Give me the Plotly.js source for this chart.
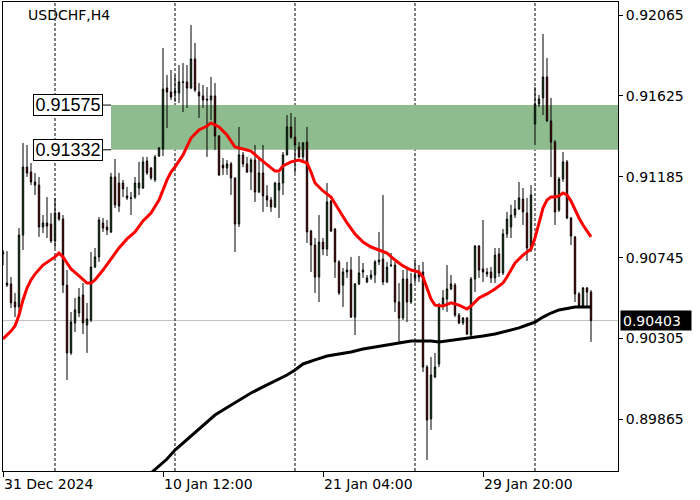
<!DOCTYPE html>
<html><head><meta charset="utf-8">
<script src="https://cdn.plot.ly/plotly-3.0.1.min.js"></script>
<style>html,body{margin:0;padding:0;background:#fff}#chart{width:700px;height:500px}</style>
</head><body><div id="chart"></div>
<script>
const symbol = "USDCHF,H4";
const opens = [
0.90776,0.90607,0.90602,0.90504,0.90477,0.90868,0.91238,0.91211,0.91157,0.91140,
0.90912,0.90934,0.90928,0.90836,0.90988,0.90955,0.90596,0.90227,0.90390,0.90444,
0.90542,0.90379,0.90406,0.90694,0.90749,0.90934,0.90912,0.90885,0.91184,0.91151,
0.91151,0.91081,0.91070,0.91075,0.91124,0.91124,0.91271,0.91233,0.91168,0.91298,
0.91336,0.91668,0.91646,0.91641,0.91641,0.91701,0.91701,0.91668,0.91826,0.91646,
0.91625,0.91608,0.91603,0.91625,0.91407,0.91249,0.91233,0.91255,0.91179,0.90928,
0.91304,0.91255,0.91211,0.91276,0.91102,0.91206,0.91081,0.91059,0.91021,0.91113,
0.91151,0.91304,0.91456,0.91401,0.91347,0.91293,0.91374,0.90890,0.90814,0.90640,
0.90830,0.90792,0.91053,0.90901,0.90722,0.90596,0.90667,0.90678,0.90422,0.90602,
0.90667,0.90613,0.90635,0.90651,0.90722,0.90738,0.90613,0.90705,0.90705,0.90504,
0.90417,0.90629,0.90504,0.90635,0.90662,0.90667,0.90150,0.89868,0.90096,0.90167,
0.90493,0.90520,0.90575,0.90596,0.90433,0.90390,0.90417,0.90324,0.90629,0.90808,
0.90684,0.90656,0.90667,0.90635,0.90765,0.90662,0.90874,0.90912,0.90977,0.91010,
0.91064,0.90988,0.90798,0.91472,0.91581,0.91614,0.91728,0.91489,0.91374,0.91004,
0.91173,0.91266,0.90961,0.90858,0.90548,0.90482,0.90580,0.90558];
const highs = [
0.90787,0.90781,0.90640,0.90553,0.90906,0.91369,0.91358,0.91260,0.91206,0.91184,
0.90977,0.91075,0.90988,0.91070,0.90994,0.90977,0.90678,0.90450,0.90526,0.90580,
0.90607,0.90499,0.90776,0.90798,0.90966,0.90961,0.90950,0.91206,0.91282,0.91206,
0.91168,0.91130,0.91102,0.91184,0.91266,0.91293,0.91293,0.91238,0.91304,0.91347,
0.91886,0.91739,0.91766,0.91739,0.91793,0.91804,0.91793,0.92011,0.91913,0.91695,
0.91684,0.91673,0.91728,0.91695,0.91412,0.91287,0.91276,0.91266,0.91181,0.91456,
0.91320,0.91293,0.91287,0.91358,0.91287,0.91358,0.91140,0.91075,0.91157,0.91206,
0.91320,0.91521,0.91532,0.91510,0.91374,0.91374,0.91456,0.90896,0.90852,0.90977,
0.90852,0.91151,0.91059,0.90906,0.90732,0.90689,0.90722,0.90749,0.90607,0.90754,
0.90716,0.90651,0.90678,0.90732,0.90885,0.91086,0.90722,0.90771,0.90722,0.90607,
0.90678,0.90694,0.90662,0.90732,0.90705,0.90722,0.90161,0.90205,0.90227,0.90499,
0.90569,0.90705,0.90651,0.90607,0.90444,0.90422,0.90422,0.90640,0.90814,0.90814,
0.90950,0.90689,0.90694,0.90798,0.90798,0.90901,0.90994,0.91032,0.91059,0.91157,
0.91124,0.91070,0.91140,0.91673,0.91630,0.91962,0.91831,0.91614,0.91385,0.91184,
0.91320,0.91276,0.90966,0.90863,0.90558,0.90586,0.90586,0.90569];
const lows = [
0.90705,0.90586,0.90471,0.90422,0.90450,0.90787,0.91184,0.91140,0.91086,0.90858,
0.90879,0.90852,0.90825,0.90798,0.90945,0.90553,0.90080,0.90216,0.90341,0.90422,
0.90330,0.90227,0.90395,0.90689,0.90722,0.90885,0.90868,0.90879,0.91015,0.90994,
0.91075,0.91059,0.90977,0.91064,0.91086,0.91119,0.91195,0.91168,0.91157,0.91293,
0.91298,0.91450,0.91603,0.91592,0.91586,0.91537,0.91559,0.91662,0.91646,0.91505,
0.91559,0.91293,0.91494,0.91331,0.91189,0.91195,0.91195,0.91086,0.90776,0.90912,
0.91238,0.91206,0.91113,0.91048,0.91097,0.90994,0.91021,0.90994,0.91015,0.90961,
0.91086,0.91302,0.91391,0.91206,0.91287,0.91276,0.90825,0.90667,0.90553,0.90504,
0.90759,0.90754,0.90885,0.90635,0.90542,0.90477,0.90635,0.90417,0.90324,0.90596,
0.90635,0.90607,0.90624,0.90607,0.90705,0.90596,0.90607,0.90694,0.90450,0.90281,
0.90406,0.90395,0.90493,0.90607,0.90613,0.90123,0.89645,0.89808,0.90091,0.90150,
0.90461,0.90450,0.90569,0.90422,0.90384,0.90379,0.90324,0.90313,0.90558,0.90635,
0.90613,0.90640,0.90607,0.90607,0.90640,0.90651,0.90852,0.90852,0.90961,0.91004,
0.90923,0.90727,0.90776,0.91358,0.91565,0.91521,0.91484,0.91184,0.90923,0.90994,
0.91157,0.90955,0.90814,0.90504,0.90471,0.90471,0.90477,0.90287];
const closes = [
0.90765,0.90596,0.90499,0.90477,0.90868,0.91238,0.91206,0.91157,0.91140,0.90912,
0.90934,0.90917,0.90836,0.90988,0.90955,0.90596,0.90227,0.90395,0.90461,0.90531,
0.90390,0.90412,0.90694,0.90749,0.90950,0.90906,0.90896,0.91184,0.91032,0.91026,
0.91119,0.91070,0.91068,0.91151,0.91151,0.91266,0.91206,0.91179,0.91293,0.91342,
0.91662,0.91646,0.91619,0.91652,0.91701,0.91699,0.91668,0.91826,0.91657,0.91625,
0.91603,0.91603,0.91625,0.91407,0.91195,0.91233,0.91255,0.91179,0.90928,0.91304,
0.91255,0.91211,0.91276,0.91102,0.91206,0.91081,0.91059,0.91021,0.91151,0.91151,
0.91304,0.91456,0.91401,0.91358,0.91293,0.91369,0.90885,0.90814,0.90640,0.90830,
0.90792,0.91048,0.90890,0.90722,0.90553,0.90667,0.90678,0.90422,0.90602,0.90662,
0.90678,0.90635,0.90651,0.90722,0.90732,0.90613,0.90694,0.90703,0.90504,0.90417,
0.90629,0.90504,0.90602,0.90651,0.90640,0.90150,0.89862,0.90107,0.90150,0.90477,
0.90526,0.90575,0.90602,0.90433,0.90390,0.90417,0.90330,0.90629,0.90808,0.90678,
0.90667,0.90667,0.90635,0.90759,0.90662,0.90874,0.90955,0.90977,0.91010,0.91070,
0.90994,0.90798,0.91086,0.91581,0.91608,0.91728,0.91489,0.91374,0.90994,0.91173,
0.91266,0.90961,0.90863,0.90548,0.90482,0.90580,0.90558,0.90403];

const redMaBars = [0,2,3,4,5,6,7,8,10,12,13,14,15,16,17,19,21,22,23,25,27,29,31,33,35,37,39,40,41,42,43,45,46,47,49,51,52,53,54,56,57,58,60,62,64,66,68,69,70,72,74,76,77,78,80,82,83,84,86,88,90,92,94,96,98,100,102,104,105,106,107,108,110,112,114,116,117,119,121,123,125,126,127,128,130,132,133,134,135,136,137,138,139,140,141,142,143,144,145,146,147];
const redMaValues = [
0.90303,0.90346,0.90374,0.90433,0.90515,0.90580,0.90624,0.90656,
0.90705,0.90732,0.90749,0.90770,0.90749,0.90716,0.90684,
0.90646,0.90607,0.90607,0.90624,0.90678,0.90738,0.90798,0.90847,0.90885,0.90945,0.90988,0.91059,
0.91113,0.91168,0.91211,0.91238,0.91304,0.91353,0.91396,0.91440,0.91461,0.91478,0.91467,0.91456,
0.91412,0.91380,0.91347,0.91336,0.91325,0.91287,0.91249,0.91216,0.91216,0.91244,
0.91266,0.91276,0.91260,0.91211,0.91151,0.91108,0.91075,0.91042,0.91004,0.90934,
0.90874,0.90830,0.90803,0.90787,0.90770,0.90732,0.90700,0.90678,0.90667,0.90640,
0.90580,0.90520,0.90487,0.90482,0.90499,0.90487,0.90466,0.90482,0.90526,0.90548,
0.90575,0.90607,0.90640,0.90678,0.90716,0.90759,0.90792,0.90852,0.90939,0.91015,
0.91059,0.91075,0.91075,0.91081,0.91097,0.91086,0.91053,0.91004,0.90961,0.90923,
0.90890,0.90858];
const blackMaBars = [37,39,41,43,45,47,49,51,53,55,57,59,62,65,68,71,73,75,78,81,84,87,90,93,96,99,102,105,107,109,111,114,117,120,123,126,129,131,133,135,137,139,141,143,145,147];
const blackMaValues = [
0.89574,0.89612,0.89650,0.89699,0.89737,0.89775,0.89813,0.89851,0.89889,0.89917,
0.89944,0.89971,0.90009,0.90042,0.90074,0.90107,0.90134,0.90167,0.90189,0.90210,
0.90221,0.90232,0.90248,0.90259,0.90270,0.90281,0.90292,0.90292,0.90292,0.90286,
0.90292,0.90297,0.90308,0.90319,0.90330,0.90346,0.90363,0.90379,0.90395,0.90422,
0.90444,0.90461,0.90471,0.90477,0.90477,0.90477];

const xTickBars = [0, 40, 80, 120];
const xTickLabels = ["31 Dec 2024", "10 Jan 12:00", "21 Jan 04:00", "29 Jan 20:00"];
const yTickValues = [0.89865, 0.90305, 0.90745, 0.91185, 0.91625, 0.92065];
const separatorBars = [13, 43, 73, 103, 133];
const zoneTop = 0.91575;
const zoneBottom = 0.91332;
const lastPrice = 0.90403;

const bars = opens.map((_, i) => i);
const FONT = "DejaVu Sans";

const shapes = [
  {type:'rect', xref:'x', yref:'y', x0:27, x1:153.75, y0:zoneBottom, y1:zoneTop,
   fillcolor:'#8fbc8f', line:{width:0}, layer:'below'},
  {type:'line', xref:'paper', yref:'y', x0:0, x1:1, y0:lastPrice, y1:lastPrice,
   line:{color:'#c0c0c0', width:1}, layer:'below'}
];
separatorBars.forEach(b => shapes.push({type:'line', xref:'x', yref:'paper', x0:b, x1:b, y0:0, y1:1,
  line:{color:'#000', width:1, dash:'3px,2px'}, layer:'below'}));
[zoneTop, zoneBottom].forEach(v => shapes.push({type:'line', xref:'x', yref:'y', x0:24.75, x1:27, y0:v, y1:v,
  line:{color:'#000', width:1}}));

const annotations = [
  {xref:'paper', yref:'paper', x:23/615, y:1, xanchor:'left', yanchor:'top', yshift:-3,
   text:symbol, showarrow:false, font:{family:FONT, size:14, color:'#000'}},
  {xref:'paper', yref:'paper', x:-0.5/615, y:1, xanchor:'left', yanchor:'top', text:'', showarrow:false}
];
[zoneTop, zoneBottom].forEach(v => annotations.push({xref:'paper', yref:'y', x:30/615, y:v,
  xanchor:'left', yanchor:'middle', text:v.toFixed(5), showarrow:false,
  bgcolor:'#fff', bordercolor:'#000', borderwidth:1, borderpad:1, width:66, height:18,
  font:{family:'Liberation Sans', size:18, color:'#000'}}));
annotations.push({xref:'paper', yref:'y', x:1, xshift:2, y:lastPrice, xanchor:'left', yanchor:'middle',
  text:lastPrice.toFixed(5), showarrow:false, bgcolor:'#000', borderpad:2, width:66, height:15,
  align:'left', font:{family:FONT, size:14, color:'#fff'}});

const traces = [
  {type:'candlestick', x:bars, open:opens, high:highs, low:lows, close:closes,
   increasing:{line:{color:'#000', width:1}, fillcolor:'#3cb043'},
   decreasing:{line:{color:'#000', width:1}, fillcolor:'#ff0000'},
   whiskerwidth:0, hoverinfo:'skip'},
  {type:'scatter', mode:'lines', x:redMaBars, y:redMaValues, line:{color:'#ff0000', width:3}, hoverinfo:'skip'},
  {type:'scatter', mode:'lines', x:blackMaBars, y:blackMaValues, line:{color:'#000', width:3}, hoverinfo:'skip'}
];

const layout = {
  width:700, height:500, margin:{l:3, r:82, t:2, b:29},
  paper_bgcolor:'#fff', plot_bgcolor:'#fff', showlegend:false, boxgap:0.5,
  xaxis:{range:[0,153.75], showline:true, mirror:true, linecolor:'#000', linewidth:1,
    showgrid:false, zeroline:false, tickmode:'array', tickvals:xTickBars, ticktext:xTickLabels,
    ticks:'outside', ticklen:5, tickcolor:'#000', ticklabelposition:'outside right',
    tickfont:{family:FONT, size:14, color:'#000'}, rangeslider:{visible:false}, fixedrange:true},
  yaxis:{side:'right', range:[0.895848, 0.921357], showline:true, mirror:true, linecolor:'#000', linewidth:1,
    showgrid:false, zeroline:false, tickmode:'array', tickvals:yTickValues, tickformat:'.5f',
    ticks:'outside', ticklen:4, tickcolor:'#000', tickfont:{family:FONT, size:14, color:'#000'}, fixedrange:true},
  shapes:shapes, annotations:annotations
};
Plotly.newPlot('chart', traces, layout, {staticPlot:true, displayModeBar:false});
</script></body></html>
